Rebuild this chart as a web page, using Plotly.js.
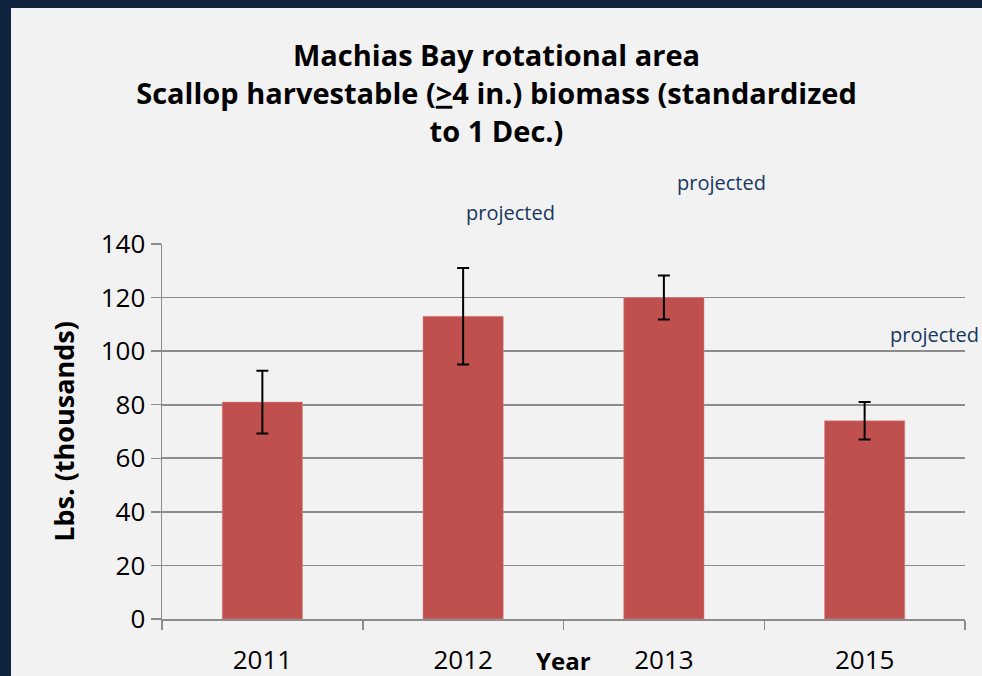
<!DOCTYPE html>
<html><head><meta charset="utf-8">
<script src="https://cdn.plot.ly/plotly-3.0.1.min.js"></script>
<style>
html,body{margin:0;padding:0;background:#11243f;width:982px;height:676px;overflow:hidden;}
#chart{position:absolute;left:11px;top:8px;width:971px;height:668px;}
</style></head>
<body><div id="chart"></div>
<script>
var years = ['2011', '2012', '2013', '2015'];
var biomass = [81, 113, 120, 74];
var errorHalf = [11.7, 18, 8.2, 7];
var noteLabels = ['', 'projected', 'projected', 'projected'];
var notePaperY = [0, 1.0853, 1.1653, 0.76];
var noteShift = [0, 47, 58, 70];

var FONT = 'Open Sans, Liberation Sans, sans-serif';

var trace = {
  type: 'bar',
  x: years,
  y: biomass,
  marker: {color: '#c0504d', line: {color: '#d9908e', width: 0.5}},
  error_y: {type: 'data', array: errorHalf, visible: true, color: '#000000', thickness: 2, width: 6},
  hoverinfo: 'none'
};

var annotations = [];
for (var i = 0; i < years.length; i++) {
  if (!noteLabels[i]) continue;
  annotations.push({
    x: i, y: notePaperY[i], xref: 'x', yref: 'paper', xshift: noteShift[i],
    text: noteLabels[i], showarrow: false, xanchor: 'center', yanchor: 'middle',
    font: {family: FONT, size: 20, color: '#17375e'}
  });
}
annotations.push({
  x: 0.5, y: 0, xref: 'paper', yref: 'paper', yshift: -41,
  text: '<b>Year</b>', showarrow: false, xanchor: 'center', yanchor: 'middle',
  font: {family: FONT, size: 24, color: '#000'}
});

var layout = {
  width: 971, height: 668,
  paper_bgcolor: '#f2f2f2', plot_bgcolor: '#f2f2f2',
  margin: {l: 151, r: 17, t: 236, b: 57},
  showlegend: false,
  bargap: 0.6,
  title: {
    text: '<b>Machias Bay rotational area<br>Scallop harvestable (<u>></u>4 in.) biomass (standardized<br>to 1 Dec.)</b>',
    x: 0.5, xanchor: 'center', xref: 'container', y: 0.913, yanchor: 'top',
    font: {family: FONT, size: 29, color: '#000'}
  },
  xaxis: {
    type: 'category', range: [-0.5, 3.5], autorange: false,
    showline: true, linecolor: '#8c8c8c', linewidth: 1.5,
    ticks: 'outside', tickson: 'boundaries', ticklen: 9, tickcolor: '#8c8c8c', tickwidth: 1.5,
    tickfont: {family: FONT, size: 26, color: '#000'}, tickangle: 0, ticklabelstandoff: 17,
    showgrid: false, zeroline: false
  },
  yaxis: {
    range: [0, 140], dtick: 20, autorange: false,
    showline: true, linecolor: '#8c8c8c', linewidth: 1.5,
    ticks: 'outside', ticklen: 10, tickcolor: '#8c8c8c', tickwidth: 1.5,
    showgrid: true, gridcolor: '#8c8c8c', gridwidth: 1.6,
    zeroline: false,
    tickfont: {family: FONT, size: 26, color: '#000'},
    title: {text: '<b>Lbs. (thousands)</b>', standoff: 18, font: {family: FONT, size: 27, color: '#000'}}
  },
  annotations: annotations
};

Plotly.newPlot('chart', [trace], layout, {displayModeBar: false, staticPlot: true});
</script>
</body></html>
